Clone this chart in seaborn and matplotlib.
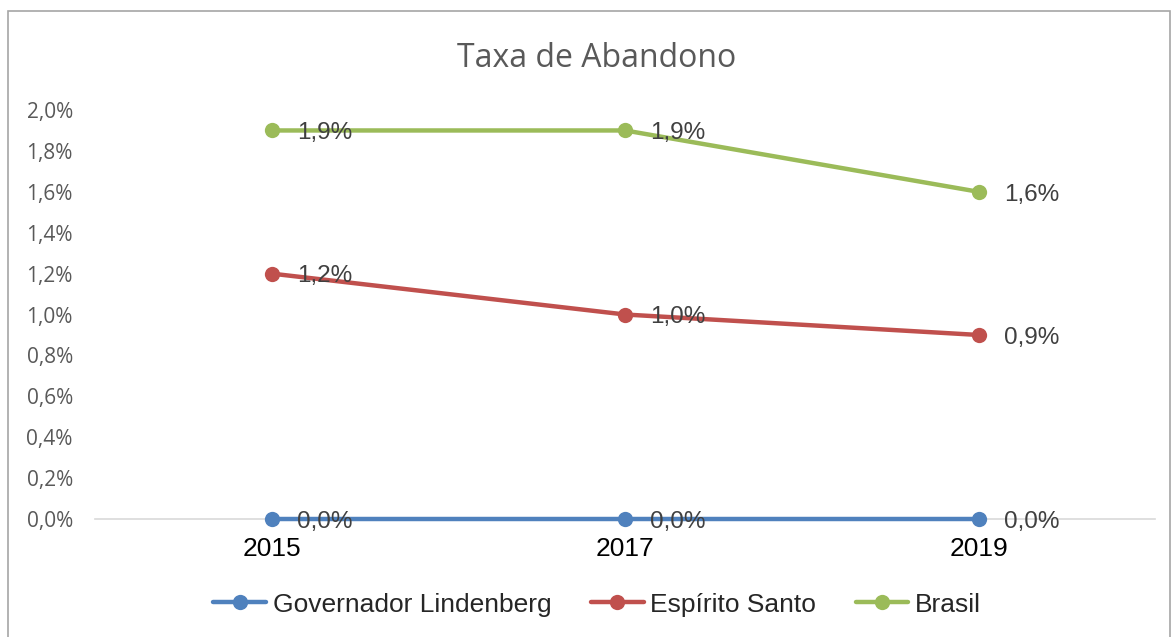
import pandas as pd
import seaborn as sns
import matplotlib.pyplot as plt
from matplotlib.patches import Rectangle
from matplotlib.ticker import FuncFormatter

# data (taxa de abandono, em fração)
anos = ['2015', '2017', '2019']
governador_lindenberg = [0.0, 0.0, 0.0]
espirito_santo = [0.012, 0.010, 0.009]
brasil = [0.019, 0.019, 0.016]
series = ['Governador Lindenberg', 'Espírito Santo', 'Brasil']
cores = ['#4F81BD', '#C0504D', '#9BBB59']

rows = []
for nome, vals in zip(series, [governador_lindenberg, espirito_santo, brasil]):
    for ano, v in zip(anos, vals):
        rows.append([ano, nome, v])
df = pd.DataFrame(rows, columns=['ano', 'serie', 'taxa'])

sns.set_style('white')
plt.rcParams['font.family'] = ['Liberation Sans', 'DejaVu Sans']

fig = plt.figure(figsize=(11.73, 6.37), dpi=100)
ax = fig.add_axes([0.081, 0.1852, 0.904, 0.6421])

palette = dict(zip(series, cores))
sns.lineplot(data=df, x='ano', y='taxa', hue='serie', hue_order=series,
             palette=palette, marker='o', markersize=11, markeredgewidth=0,
             linewidth=3.2, sort=False, ax=ax, legend=True)
for ln in ax.lines:
    ln.set_clip_on(False)
    ln.set_zorder(3)

ax.set_xlim(-0.5, 2.5)
ax.set_ylim(0, 0.02)
ax.set_yticks([i * 0.002 for i in range(11)])
ax.yaxis.set_major_formatter(FuncFormatter(lambda v, p: '{:.1f}%'.format(v * 100).replace('.', ',')))
for lab in ax.get_yticklabels():
    lab.set_fontfamily('Open Sans')
    lab.set_fontsize(15)
    lab.set_color('#595959')
ax.tick_params(axis='y', length=0, pad=16)
ax.tick_params(axis='x', length=0, pad=13, labelsize=19, labelcolor='black')

for s in ['top', 'right', 'left']:
    ax.spines[s].set_visible(False)
ax.spines['bottom'].set_color('#d9d9d9')
ax.spines['bottom'].set_linewidth(1.2)
ax.spines['bottom'].set_zorder(0)
ax.set_xlabel('')
ax.set_ylabel('')

# rótulos de dados
for nome, vals in zip(series, [governador_lindenberg, espirito_santo, brasil]):
    for i, v in enumerate(vals):
        ax.annotate('{:.1f}%'.format(v * 100).replace('.', ','), (i, v),
                    xytext=(18, -2), textcoords='offset points',
                    va='center', ha='left', fontsize=17.5, color='#404040',
                    zorder=4, annotation_clip=False)

fig.text(0.509, 0.908, 'Taxa de Abandono', ha='center', va='center',
         fontsize=23, color='#595959', family='Open Sans')

handles, labels = ax.get_legend_handles_labels()
ax.legend(handles, labels, loc='center', bbox_to_anchor=(0.509, 0.051),
          bbox_transform=fig.transFigure, ncol=3, frameon=False,
          fontsize=19, handlelength=2.0, columnspacing=1.5, handletextpad=0.25)

# moldura do gráfico
fig.patches.append(Rectangle((8 / 1173, -0.01), 1162 / 1173, 1 - 11 / 637 + 0.01,
                             transform=fig.transFigure, fill=False,
                             edgecolor='#a6a6a6', linewidth=1.2))

plt.savefig('out.png', dpi=100)
